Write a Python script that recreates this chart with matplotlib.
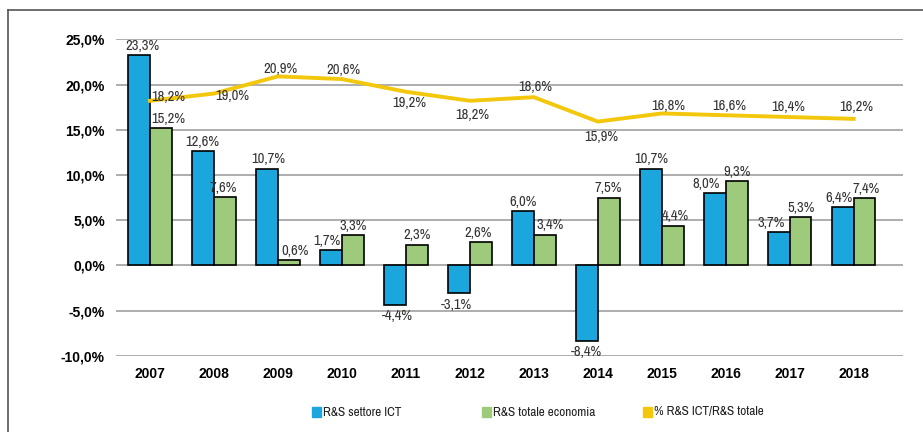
import numpy as np
import matplotlib.pyplot as plt
from matplotlib.lines import Line2D

years = ["2007", "2008", "2009", "2010", "2011", "2012", "2013", "2014", "2015", "2016", "2017", "2018"]
ict = [23.3, 12.6, 10.7, 1.7, -4.4, -3.1, 6.0, -8.4, 10.7, 8.0, 3.7, 6.4]
totale = [15.2, 7.6, 0.6, 3.3, 2.3, 2.6, 3.4, 7.5, 4.4, 9.3, 5.3, 7.4]
quota = [18.2, 19.0, 20.9, 20.6, 19.2, 18.2, 18.6, 15.9, 16.8, 16.6, 16.4, 16.2]

# label nudges in pixels
quota_dx = [18, 18, 3, 2, 3, 2, 1, 3, 6, 4, -2, 3]
quota_dy = [4, -2, 7, 9, -11, -14, 10, -15, 7, 9, 10, 12]
ict_dx = [3, -1, 1, -4, 2, -3, 0, 0, 0, -9, -8, -4]
tot_dx = [7, -2, 6, 0, 0, -3, 5, 0, 3, 0, 0, 2]

legend_labels = ["R&S settore ICT", "R&S totale economia", "% R&S ICT/R&S totale"]

c_blue = "#1ba6dd"
c_green = "#9dca7b"
c_yellow = "#f2c70c"

plt.rcParams['font.family'] = ['Archivo Narrow', 'Liberation Sans', 'DejaVu Sans']
bold_font = ['Liberation Sans', 'DejaVu Sans']

def fmt(v):
    return f"{v:.1f}%".replace(".", ",")

px = 72 / 100  # pixels -> points

fig = plt.figure(figsize=(9.23, 4.32), dpi=100)
ax = fig.add_axes([0.1257, 0.1766, 0.8526, 0.7324])

x = np.arange(len(years))
w = 0.34
ax.bar(x - w / 2, ict, w, color=c_blue, edgecolor="black", linewidth=1.2, zorder=3)
ax.bar(x + w / 2, totale, w, color=c_green, edgecolor="black", linewidth=1.2, zorder=3)
ax.plot(x, quota, color=c_yellow, linewidth=2.8, zorder=4)

lab = dict(fontsize=10.5, color="#333333", ha="center", textcoords="offset points")
for i in range(len(years)):
    v = ict[i]
    if v >= 0:
        ax.annotate(fmt(v), (x[i] - w / 2, v), xytext=(ict_dx[i] * px, 1.5), va="bottom", **lab)
    else:
        ax.annotate(fmt(v), (x[i] - w / 2, v), xytext=(ict_dx[i] * px, -3), va="top", **lab)
    v = totale[i]
    ax.annotate(fmt(v), (x[i] + w / 2, v), xytext=(tot_dx[i] * px, 1.5), va="bottom", **lab)
    ax.annotate(fmt(quota[i]), (x[i], quota[i]), xytext=(quota_dx[i] * px, quota_dy[i] * px),
                va="center", zorder=5, **lab)

ax.set_xlim(-0.53, 11.77)
ax.set_ylim(-10, 25)
ax.set_yticks(np.arange(-10, 26, 5))
ax.set_yticklabels([fmt(t) for t in np.arange(-10, 26, 5)], fontweight="bold", fontsize=10,
                   family=bold_font)
ax.set_xticks(x)
ax.set_xticklabels(years, fontweight="bold", fontsize=10, family=bold_font)
ax.tick_params(length=0)
ax.tick_params(axis="y", pad=8)
ax.tick_params(axis="x", pad=8)
ax.grid(axis="y", color="#a0a0a0", linewidth=1.2, zorder=0)
for s in ax.spines.values():
    s.set_visible(False)

# legend, placed by hand
leg_x = [312, 482, 643]
for lx, c, t in zip(leg_x, (c_blue, c_green, c_yellow), legend_labels):
    fig.add_artist(plt.Rectangle((lx / 923, 1 - 417 / 432), 9 / 923, 10 / 432, color=c))
    fig.text((lx + 11) / 923, 1 - 412 / 432, t, fontsize=9.5, va="center", ha="left", color="#222222")

# outer frame (top and left)
fig.add_artist(Line2D([8 / 923, 1], [1 - 10 / 432] * 2, color="#555555", linewidth=1.2))
fig.add_artist(Line2D([8 / 923] * 2, [0, 1 - 10 / 432], color="#555555", linewidth=1.2))

fig.savefig("out.png", dpi=100)
